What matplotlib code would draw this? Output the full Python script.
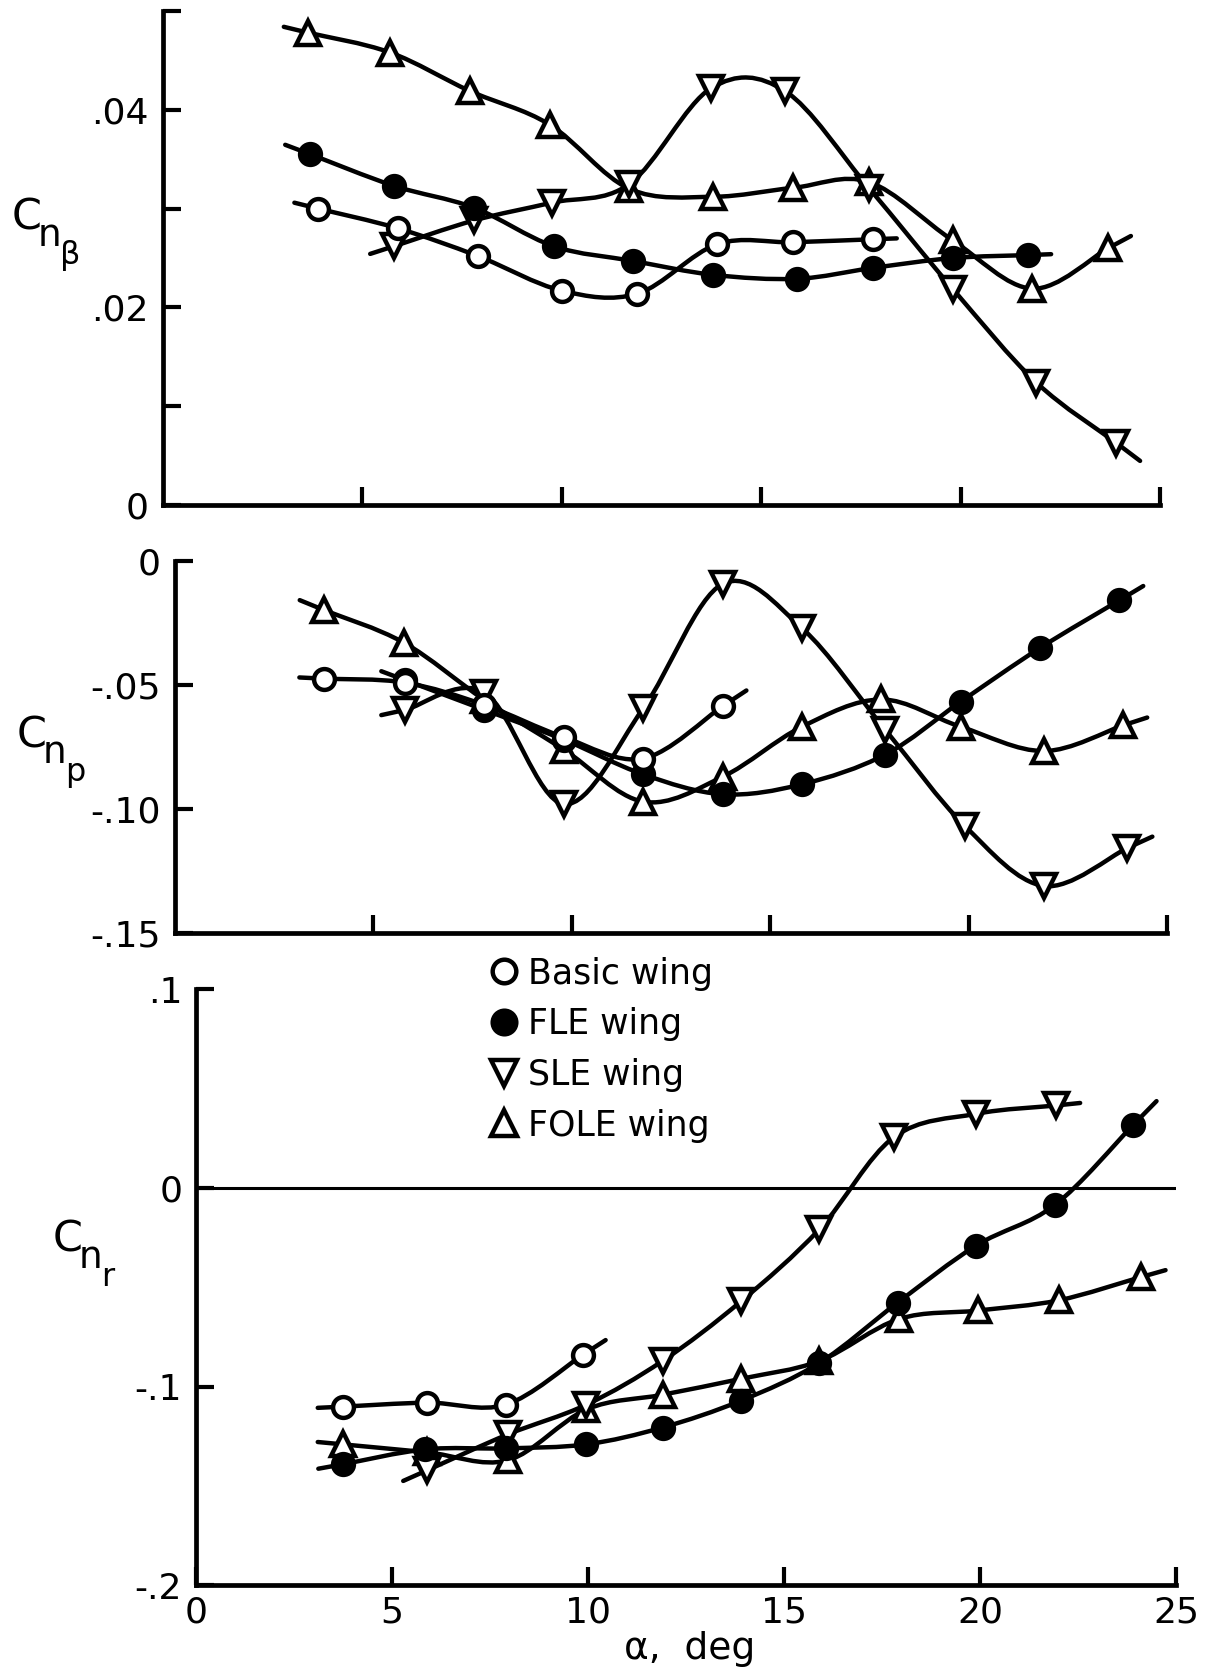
import numpy as np
import matplotlib
matplotlib.use('Agg')
import matplotlib.pyplot as plt
from matplotlib.path import Path
from matplotlib.patches import PathPatch
from matplotlib.lines import Line2D

plt.rcParams['font.family'] = ['DejaVu Sans']

# ---- data ----
# C_n_beta
beta_basic_a = [3.9, 5.9, 7.9, 10.0, 11.9, 13.9, 15.8, 17.8]
beta_basic = [0.0300, 0.0280, 0.0252, 0.0217, 0.0214, 0.0264, 0.0266, 0.0269]
beta_fle_a = [3.7, 5.8, 7.8, 9.8, 11.8, 13.8, 15.9, 17.8, 19.8, 21.7]
beta_fle = [0.0355, 0.0323, 0.0301, 0.0262, 0.0247, 0.0233, 0.0229, 0.0240, 0.0250, 0.0253]
beta_sle_a = [5.8, 7.8, 9.75, 11.7, 13.75, 15.6, 17.7, 19.8, 21.9, 23.9]
beta_sle = [0.0262, 0.0288, 0.0306, 0.0325, 0.0422, 0.0419, 0.0321, 0.0219, 0.0124, 0.0063]
beta_fole_a = [3.65, 5.7, 7.7, 9.7, 11.7, 13.8, 15.8, 17.7, 19.8, 21.8, 23.7]
beta_fole = [0.0478, 0.0458, 0.0419, 0.0385, 0.0320, 0.0312, 0.0321, 0.0327, 0.0268, 0.0219, 0.0260]

# C_n_p
p_basic_a = [3.75, 5.8, 7.8, 9.8, 11.8, 13.8]
p_basic = [-0.0474, -0.049, -0.058, -0.071, -0.0796, -0.0585]
p_fle_a = [5.8, 7.8, 9.8, 11.8, 13.8, 15.8, 17.9, 19.8, 21.8, 23.8]
p_fle = [-0.048, -0.060, -0.072, -0.086, -0.094, -0.090, -0.078, -0.0567, -0.035, -0.0158]
p_sle_a = [5.8, 7.8, 9.8, 11.8, 13.8, 15.8, 17.9, 19.9, 21.9, 24.0]
p_sle = [-0.060, -0.053, -0.098, -0.0594, -0.0092, -0.027, -0.068, -0.1067, -0.131, -0.1157]
p_fole_a = [3.75, 5.77, 7.8, 9.8, 11.8, 13.8, 15.8, 17.8, 19.8, 21.9, 23.9]
p_fole = [-0.0197, -0.0329, -0.056, -0.076, -0.097, -0.087, -0.0668, -0.0558, -0.0668, -0.0766, -0.0662]

# C_n_r
r_basic_a = [3.75, 5.9, 7.9, 9.86]
r_basic = [-0.110, -0.108, -0.109, -0.084]
r_fle_a = [3.75, 5.85, 7.9, 9.95, 11.9, 13.9, 15.9, 17.9, 19.9, 21.9, 23.9]
r_fle = [-0.139, -0.1315, -0.131, -0.129, -0.1205, -0.107, -0.088, -0.0576, -0.0289, -0.0086, 0.0317]
r_sle_a = [5.9, 7.95, 9.96, 11.9, 13.9, 15.9, 17.8, 19.9, 21.94]
r_sle = [-0.142, -0.124, -0.109, -0.087, -0.057, -0.0207, 0.0256, 0.0374, 0.0416]
r_fole_a = [3.75, 5.9, 7.95, 9.96, 11.9, 13.9, 15.9, 17.93, 19.95, 22.0, 24.1]
r_fole = [-0.129, -0.133, -0.137, -0.1114, -0.104, -0.096, -0.087, -0.0659, -0.0616, -0.0565, -0.0448]

labels = ['Basic wing', 'FLE wing', 'SLE wing', 'FOLE wing']
LW = 3.2


def faired(ax, x, y, tail=0.3):
    # smooth curve through the points (Catmull-Rom as cubic Bezier), short stubs at the ends
    p = np.column_stack([x, y]).astype(float)
    p = np.vstack([p[0] + tail * (p[0] - p[1]), p, p[-1] + tail * (p[-1] - p[-2])])
    e = np.vstack([p[0], p, p[-1]])
    verts = [e[1]]
    codes = [Path.MOVETO]
    for i in range(1, len(e) - 2):
        p0, p1, p2, p3 = e[i - 1], e[i], e[i + 1], e[i + 2]
        verts += [p1 + (p2 - p0) / 6, p2 - (p3 - p1) / 6, p2]
        codes += [Path.CURVE4] * 3
    ax.add_patch(PathPatch(Path(verts, codes), fill=False, lw=LW, ec='black',
                           capstyle='round', zorder=2, clip_on=False))


# basic, FLE, SLE, FOLE (z: FOLE lowest, basic on top)
styles = [dict(marker='o', ms=15, mfc='white', zorder=3.3),
          dict(marker='o', ms=15, mfc='black', zorder=3.2),
          dict(marker='v', ms=17, mfc='white', zorder=3.1),
          dict(marker='^', ms=17, mfc='white', zorder=3.0)]


def panel(ax, series):
    for (x, y), st in zip(series, styles):
        faired(ax, x, y)
        ax.plot(x, y, ls='none', mec='black', mew=LW, clip_on=False, **st)
    for s in ['top', 'right']:
        ax.spines[s].set_visible(False)
    for s in ['left', 'bottom']:
        ax.spines[s].set_linewidth(3.4)
    ax.set_xlim(0, 25)
    ax.set_xticks([5, 10, 15, 20, 25])
    ax.tick_params(direction='in', length=13, width=3.0, labelsize=26)
    ax.tick_params(axis='y', pad=10)


def coef_label(x, y, sub, subsub):
    # C with a large subscript and sub-subscript, placed in figure pixels (from top-left)
    W, H = 1210.0, 1668.0
    fig.text(x / W, 1 - y / H, 'C', fontsize=31, va='baseline')
    fig.text((x + 26) / W, 1 - (y + 16) / H, sub, fontsize=27, va='baseline')
    fig.text((x + 48) / W, 1 - (y + 34) / H, subsub, fontsize=23, va='baseline')


fig = plt.figure(figsize=(12.1, 16.68), dpi=100)

ax1 = fig.add_axes([0.1345, 0.6972, 0.8242, 0.2962])
panel(ax1, [(beta_basic_a, beta_basic), (beta_fle_a, beta_fle),
            (beta_sle_a, beta_sle), (beta_fole_a, beta_fole)])
ax1.set_ylim(0, 0.05)
ax1.set_yticks([0, 0.01, 0.02, 0.03, 0.04, 0.05])
ax1.set_yticklabels(['0', '', '.02', '', '.04', ''])
ax1.set_xticklabels([])

ax2 = fig.add_axes([0.1446, 0.4406, 0.8199, 0.2230])
panel(ax2, [(p_basic_a, p_basic), (p_fle_a, p_fle),
            (p_sle_a, p_sle), (p_fole_a, p_fole)])
ax2.set_ylim(-0.15, 0)
ax2.set_yticks([0, -0.05, -0.10, -0.15])
ax2.set_yticklabels(['0', '-.05', '-.10', '-.15'])
ax2.set_xticklabels([])

ax3 = fig.add_axes([0.162, 0.0495, 0.810, 0.3573])
ax3.axhline(0, color='black', lw=2.2, zorder=1)
panel(ax3, [(r_basic_a, r_basic), (r_fle_a, r_fle),
            (r_sle_a, r_sle), (r_fole_a, r_fole)])
ax3.set_ylim(-0.2, 0.1)
ax3.set_yticks([0.1, 0, -0.1, -0.2])
ax3.set_yticklabels(['.1', '0', '-.1', '-.2'])
ax3.set_xticks([0, 5, 10, 15, 20, 25])
ax3.set_xticklabels(['0', '5', '10', '15', '20', '25'])
ax3.tick_params(axis='x', pad=7)

fig.text(0.57, 0.0115, 'α,  deg', fontsize=27, ha='center', va='center')

coef_label(12, 230, 'n', 'β')
coef_label(17, 747, 'n', 'p')
coef_label(53, 1252, 'n', 'r')

handles = [Line2D([], [], ls='none', mec='black', mew=LW,
                  marker=st['marker'], mfc=st['mfc'], ms=st['ms'] + 2) for st in styles]
ax3.legend(handles, labels, loc='upper left', bbox_to_anchor=(0.402, 0.4265),
           bbox_transform=fig.transFigure, frameon=False, fontsize=25,
           handlelength=1.0, handletextpad=0.2, labelspacing=0.48,
           borderpad=0, borderaxespad=0)

fig.savefig('out.png', dpi=100)
